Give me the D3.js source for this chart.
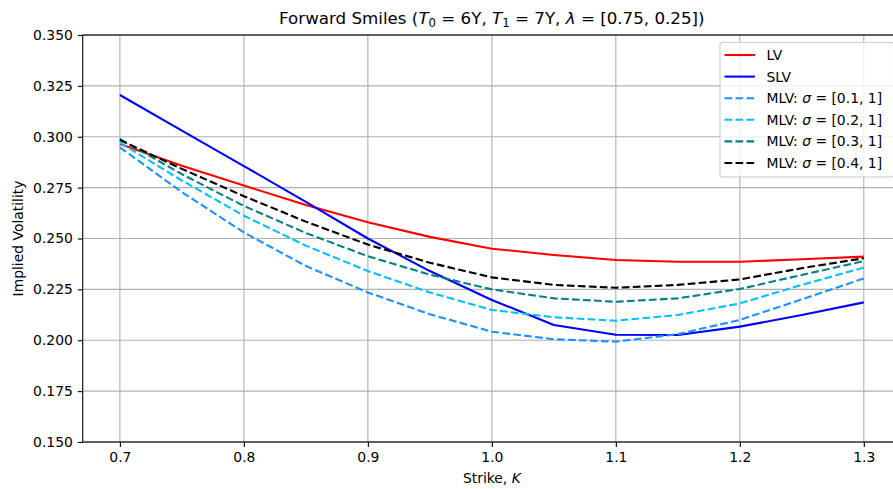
<!DOCTYPE html>
<html>
<head>
<meta charset="utf-8">
<script src="https://cdn.jsdelivr.net/npm/d3@7"></script>
<style>
    body { margin: 0; background: #fff; }
    svg { display: block; overflow: hidden; font-family: "DejaVu Sans", sans-serif; }
</style>
</head>
<body>
<div id="chart"></div>
<script>
// data
var strikes = [0.7, 0.75, 0.8, 0.85, 0.9, 0.95, 1.0, 1.05, 1.1, 1.15, 1.2, 1.25, 1.3];
var lv   = [0.2964, 0.2857, 0.2760, 0.2665, 0.2580, 0.2508, 0.2450, 0.2419, 0.2394, 0.2386, 0.2386, 0.2398, 0.2411];
var slv  = [0.3205, 0.3030, 0.2856, 0.2680, 0.2500, 0.2340, 0.2198, 0.2075, 0.2027, 0.2026, 0.2067, 0.2124, 0.2186];
var mlv1 = [0.2948, 0.2728, 0.2530, 0.2365, 0.2235, 0.2128, 0.2042, 0.2005, 0.1993, 0.2030, 0.2100, 0.2201, 0.2304];
var mlv2 = [0.2971, 0.2785, 0.2612, 0.2465, 0.2340, 0.2235, 0.2149, 0.2113, 0.2096, 0.2124, 0.2181, 0.2272, 0.2357];
var mlv3 = [0.2989, 0.2816, 0.2660, 0.2527, 0.2413, 0.2322, 0.2250, 0.2206, 0.2189, 0.2206, 0.2252, 0.2321, 0.2389];
var mlv4 = [0.2984, 0.2842, 0.2708, 0.2583, 0.2470, 0.2381, 0.2309, 0.2272, 0.2258, 0.2272, 0.2299, 0.2354, 0.2403];

var seriesNames = ["LV", "SLV", "MLV: ", "MLV: ", "MLV: ", "MLV: "];
var sigmaLabels = [null, null, "[0.1, 1]", "[0.2, 1]", "[0.3, 1]", "[0.4, 1]"];
var seriesValues = [lv, slv, mlv1, mlv2, mlv3, mlv4];
var seriesColors = ["#ff0000", "#0000ff", "#1e90ff", "#00bfff", "#008080", "#000000"];
var seriesDashed = [false, false, true, true, true, true];

var xTicks = [0.7, 0.8, 0.9, 1.0, 1.1, 1.2, 1.3];
var yTicks = [0.150, 0.175, 0.200, 0.225, 0.250, 0.275, 0.300, 0.325, 0.350];

//parameters
var svgWidth = 893;
var svgHeight = 489;
var plotLeft = 82.7;
var plotRight = 901;
var plotTop = 35;
var plotBottom = 442;
var fontSize = 13.9;
var lineW = 2.1;

var svg = d3.select("#chart").append("svg")
    .attr("width", svgWidth)
    .attr("height", svgHeight);

var x = d3.scaleLinear().domain([0.67, 1.33]).range([plotLeft, plotRight]);
var y = d3.scaleLinear().domain([0.15, 0.35]).range([plotBottom, plotTop]);

// grid
svg.append("g").selectAll("line").data(xTicks).enter().append("line")
    .attr("x1", function (d) { return x(d); })
    .attr("x2", function (d) { return x(d); })
    .attr("y1", plotTop).attr("y2", plotBottom)
    .attr("stroke", "#b0b0b0").attr("stroke-width", 1.1);
svg.append("g").selectAll("line").data(yTicks).enter().append("line")
    .attr("x1", plotLeft).attr("x2", plotRight)
    .attr("y1", function (d) { return y(d); })
    .attr("y2", function (d) { return y(d); })
    .attr("stroke", "#b0b0b0").attr("stroke-width", 1.1);

// series lines
var line = d3.line()
    .x(function (d) { return x(d[0]); })
    .y(function (d) { return y(d[1]); });

seriesValues.forEach(function (vals, i) {
    svg.append("path")
        .datum(d3.zip(strikes, vals))
        .attr("d", line)
        .attr("fill", "none")
        .attr("stroke", seriesColors[i])
        .attr("stroke-width", lineW)
        .attr("stroke-linejoin", "round")
        .attr("stroke-dasharray", seriesDashed[i] ? "7.7,3.3" : null);
});

// axes
var xAxis = svg.append("g")
    .attr("transform", "translate(0," + plotBottom + ")")
    .call(d3.axisBottom(x).tickValues(xTicks).tickFormat(d3.format(".1f")).tickSizeOuter(0).tickSize(4.9).tickPadding(4.9));
var yAxis = svg.append("g")
    .attr("transform", "translate(" + plotLeft + ",0)")
    .call(d3.axisLeft(y).tickValues(yTicks).tickFormat(d3.format(".3f")).tickSizeOuter(0).tickSize(4.9).tickPadding(4.9));
[xAxis, yAxis].forEach(function (ax) {
    ax.select(".domain").remove();
    ax.selectAll("line").attr("stroke", "#000").attr("stroke-width", 1.1);
    ax.selectAll("text").attr("fill", "#000")
        .style("font-family", "DejaVu Sans").style("font-size", fontSize + "px");
});

// spines
svg.append("rect")
    .attr("x", plotLeft).attr("y", plotTop)
    .attr("width", plotRight - plotLeft).attr("height", plotBottom - plotTop)
    .attr("fill", "none").attr("stroke", "#000").attr("stroke-width", 1.1);

// title
var title = svg.append("text")
    .attr("x", (plotLeft + plotRight) / 2)
    .attr("y", 24)
    .attr("text-anchor", "middle")
    .style("font-size", "16.7px");
title.append("tspan").text("Forward Smiles (");
title.append("tspan").style("font-style", "italic").text("T");
title.append("tspan").attr("dy", 3).style("font-size", "11.7px").text("0");
title.append("tspan").attr("dy", -3).text(" = 6Y, ");
title.append("tspan").style("font-style", "italic").text("T");
title.append("tspan").attr("dy", 3).style("font-size", "11.7px").text("1");
title.append("tspan").attr("dy", -3).text(" = 7Y, ");
title.append("tspan").style("font-style", "italic").text("λ");
title.append("tspan").text(" = [0.75, 0.25])");

// axis labels
var xl = svg.append("text")
    .attr("x", (plotLeft + plotRight) / 2)
    .attr("y", 483)
    .attr("text-anchor", "middle")
    .style("font-size", fontSize + "px");
xl.append("tspan").text("Strike, ");
xl.append("tspan").style("font-style", "italic").text("K");

svg.append("text")
    .attr("transform", "translate(23," + (plotTop + plotBottom) / 2 + ") rotate(-90)")
    .attr("text-anchor", "middle")
    .style("font-size", fontSize + "px")
    .text("Implied Volatility");

// legend
var legendX = 720;
var legendY = 42.5;
var legendW = 173.5;
var legendH = 134.5;
var rowH = 21.6;

svg.append("rect")
    .attr("x", legendX).attr("y", legendY)
    .attr("width", legendW).attr("height", legendH)
    .attr("rx", 2.5)
    .attr("fill", "#fff").attr("fill-opacity", 0.8)
    .attr("stroke", "#cccccc").attr("stroke-width", 1.1);

seriesNames.forEach(function (name, i) {
    var cy = 55 + i * rowH;
    svg.append("line")
        .attr("x1", legendX + 4.5).attr("x2", legendX + 35)
        .attr("y1", cy).attr("y2", cy)
        .attr("stroke", seriesColors[i])
        .attr("stroke-width", lineW)
        .attr("stroke-dasharray", seriesDashed[i] ? "7.7,3.3" : null);
    var t = svg.append("text")
        .attr("x", legendX + 46.5)
        .attr("y", cy + 5)
        .style("font-size", fontSize + "px")
        .text(name);
    if (sigmaLabels[i]) {
        t.append("tspan").style("font-style", "italic").text("σ");
        t.append("tspan").text(" = " + sigmaLabels[i]);
    }
});
</script>
</body>
</html>
